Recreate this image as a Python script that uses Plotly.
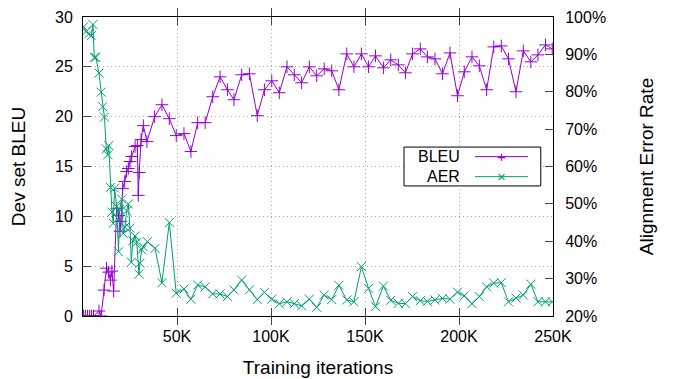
import plotly.graph_objects as go

# training iterations (in thousands) at which each metric was evaluated
bleu_iters = [0.3, 1.3, 2.4, 3.5, 4.5, 5.6, 8.5, 9.6, 11.2, 12.5, 13.6, 14.6, 15.4, 16.3,
              17.9, 19.0, 19.7, 20.2, 21.1, 22.2, 23.2, 24.1, 25.0, 25.9, 27.7, 28.9,
              29.4, 29.9, 30.9, 32.1, 34.0, 38.1, 42.0, 45.9, 49.6, 53.7, 57.4, 61.0,
              65.0, 69.0, 72.9, 76.8, 80.3, 84.4, 88.5, 92.7, 96.5, 100.4, 104.4, 108.5,
              112.4, 116.3, 120.4, 124.3, 128.3, 132.3, 136.1, 140.3, 144.1, 148.1, 151.9,
              155.6, 159.8, 163.7, 167.7, 171.5, 175.3, 179.4, 183.2, 187.2, 191.2, 195.2,
              199.2, 202.8, 206.9, 210.8, 214.7, 218.5, 222.5, 226.3, 230.3, 234.2, 238.2,
              242.0, 246.0, 249.6]
bleu = [0, 0, 0, 0, 0, 0, 0.5, 0, 2.6, 4.8, 4.4, 3.6, 4.5, 2.5,
        10.8, 10.1, 8.5, 9.5, 12.8, 13.5, 14.5, 14.8, 15.5, 16.0, 17.0, 17.1,
        12.1, 14.4, 17.7, 19.1, 17.5, 20.0, 21.2, 19.8, 18.1, 18.3, 16.5, 19.4,
        19.4, 22.0, 24.0, 22.7, 21.7, 24.2, 24.3, 20.1, 22.7, 23.6, 22.4, 25.0,
        24.2, 23.4, 25.0, 24.1, 24.8, 24.6, 22.7, 26.3, 25.0, 26.3, 25.0,
        26.1, 24.9, 25.7, 25.2, 24.4, 26.3, 26.8, 26.0, 25.8, 24.3, 26.4,
        22.1, 24.5, 26.0, 25.1, 22.7, 27.0, 27.1, 25.8, 22.5, 26.6, 25.5,
        26.2, 27.2, 26.8]

aer_iters = [0.3, 1.6, 3.1, 4.4, 5.3, 6.0, 6.8, 8.5, 9.7, 10.5, 11.4, 12.4, 13.1, 13.7,
             14.6, 15.4, 16.1, 16.8, 17.9, 18.9, 19.5, 20.6, 21.4, 22.3, 23.2, 24.1,
             25.0, 25.7, 26.5, 27.7, 28.6, 29.8, 30.3, 31.2, 32.1, 34.2, 38.3, 42.0,
             45.9, 49.6, 53.7, 57.4, 61.0, 65.0, 69.0, 72.9, 76.8, 80.3, 84.4, 88.5,
             92.7, 96.5, 100.4, 104.4, 108.5, 112.4, 116.3, 120.4, 124.3, 128.3, 132.3,
             136.1, 140.3, 144.1, 148.1, 151.9, 155.6, 159.8, 163.7, 167.7, 171.5, 175.3,
             179.4, 183.2, 187.2, 191.2, 195.2, 199.2, 202.8, 206.9, 210.8, 214.7, 218.5,
             222.5, 226.3, 230.3, 234.2, 238.2, 242.0, 246.0, 249.6]
aer = [97.4, 96.1, 95.5, 95.0, 98.0, 89.2, 89.2, 85.0, 79.9, 76.0, 73.2, 64.7, 63.1, 65.6,
       54.4, 47.8, 44.8, 54.2, 49.3, 37.2, 48.6, 51.3, 42.1, 43.8, 48.1, 50.0,
       43.5, 34.4, 40.1, 41.4, 39.7, 31.2, 34.1, 37.7, 38.5, 39.9, 38.1, 28.9,
       45.0, 26.1, 27.2, 24.5, 28.3, 27.8, 25.9, 25.9, 25.2, 27.0, 29.6, 27.0,
       24.4, 26.3, 24.5, 23.3, 23.8, 23.3, 22.7, 24.5, 22.3, 25.6, 24.4,
       28.2, 24.3, 23.8, 33.2, 27.4, 22.5, 28.0, 24.2, 23.4, 23.3, 25.2,
       24.1, 23.9, 24.3, 24.7, 24.5, 26.4, 25.4, 23.3, 25.2, 27.8, 28.8,
       28.9, 23.8, 24.8, 25.6, 28.5, 23.8, 23.8, 23.8]

x_ticks = [50, 100, 150, 200, 250]
x_labels = ["50K", "100K", "150K", "200K", "250K"]

purple = "#9400d3"
green = "#009e73"
font = "Liberation Sans, Arial, sans-serif"
grid = dict(showgrid=True, gridcolor="#a8a8a8", griddash="1px,3px", gridwidth=1)

fig = go.Figure()
fig.add_trace(go.Scatter(
    x=bleu_iters, y=bleu, name="BLEU", mode="lines+markers",
    line=dict(color=purple, width=1),
    marker=dict(symbol="cross-thin", size=9, line=dict(color=purple, width=1)),
))
fig.add_trace(go.Scatter(
    x=aer_iters, y=aer, name="AER", mode="lines+markers", yaxis="y2",
    line=dict(color=green, width=1),
    marker=dict(symbol="x-thin", size=9, line=dict(color=green, width=1)),
))

# gnuplot-style key: label on the left, sample on the right
key = [("BLEU", purple, "+", 0.533), ("AER", green, "×", 0.466)]
shapes = [dict(type="rect", xref="paper", yref="paper", x0=0.683, x1=0.974,
               y0=0.435, y1=0.565, line=dict(color="black", width=1),
               fillcolor="white", layer="above")]
annotations = []
for label, color, glyph, ky in key:
    shapes.append(dict(type="line", xref="paper", yref="paper", x0=0.834, x1=0.947,
                       y0=ky, y1=ky, line=dict(color=color, width=1), layer="above"))
    annotations.append(dict(text=label, xref="paper", yref="paper", x=0.806, y=ky,
                            xanchor="right", yanchor="middle", showarrow=False,
                            font=dict(size=16, color="black")))
    annotations.append(dict(text=glyph, xref="paper", yref="paper", x=0.8905, y=ky,
                            xanchor="center", yanchor="middle", showarrow=False,
                            font=dict(size=15, color=color)))

fig.update_layout(
    width=676, height=379,
    margin=dict(l=83, r=123, t=17, b=63),
    paper_bgcolor="white", plot_bgcolor="white",
    font=dict(family=font, size=16, color="black"),
    showlegend=False, hovermode=False,
    shapes=shapes, annotations=annotations,
    xaxis=dict(
        range=[0, 250], tickvals=x_ticks, ticktext=x_labels, automargin=False,
        ticklabelstandoff=6,
        title=dict(text="Training iterations", standoff=16),
        showline=True, linecolor="black", linewidth=1, mirror="allticks",
        ticks="inside", ticklen=8, tickcolor="#444",
        zeroline=False, **grid,
    ),
    yaxis=dict(
        range=[0, 30], dtick=5, automargin=False, ticklabelstandoff=6,
        title=dict(text="Dev set BLEU", standoff=24),
        showline=True, linecolor="black", linewidth=1,
        ticks="inside", ticklen=8, tickcolor="#444",
        zeroline=False, **grid,
    ),
    yaxis2=dict(
        range=[20, 100], dtick=10, ticksuffix="%", overlaying="y", side="right",
        automargin=False, ticklabelstandoff=8,
        title=dict(text="Alignment Error Rate", standoff=34),
        showline=True, linecolor="black", linewidth=1,
        ticks="inside", ticklen=8, tickcolor="#444",
        showgrid=False, zeroline=False,
    ),
)

# the page's default 8px body margin would shift the figure
fig.write_html("out.html", config={"displayModeBar": False},
               post_script="document.body.style.margin='0';")
